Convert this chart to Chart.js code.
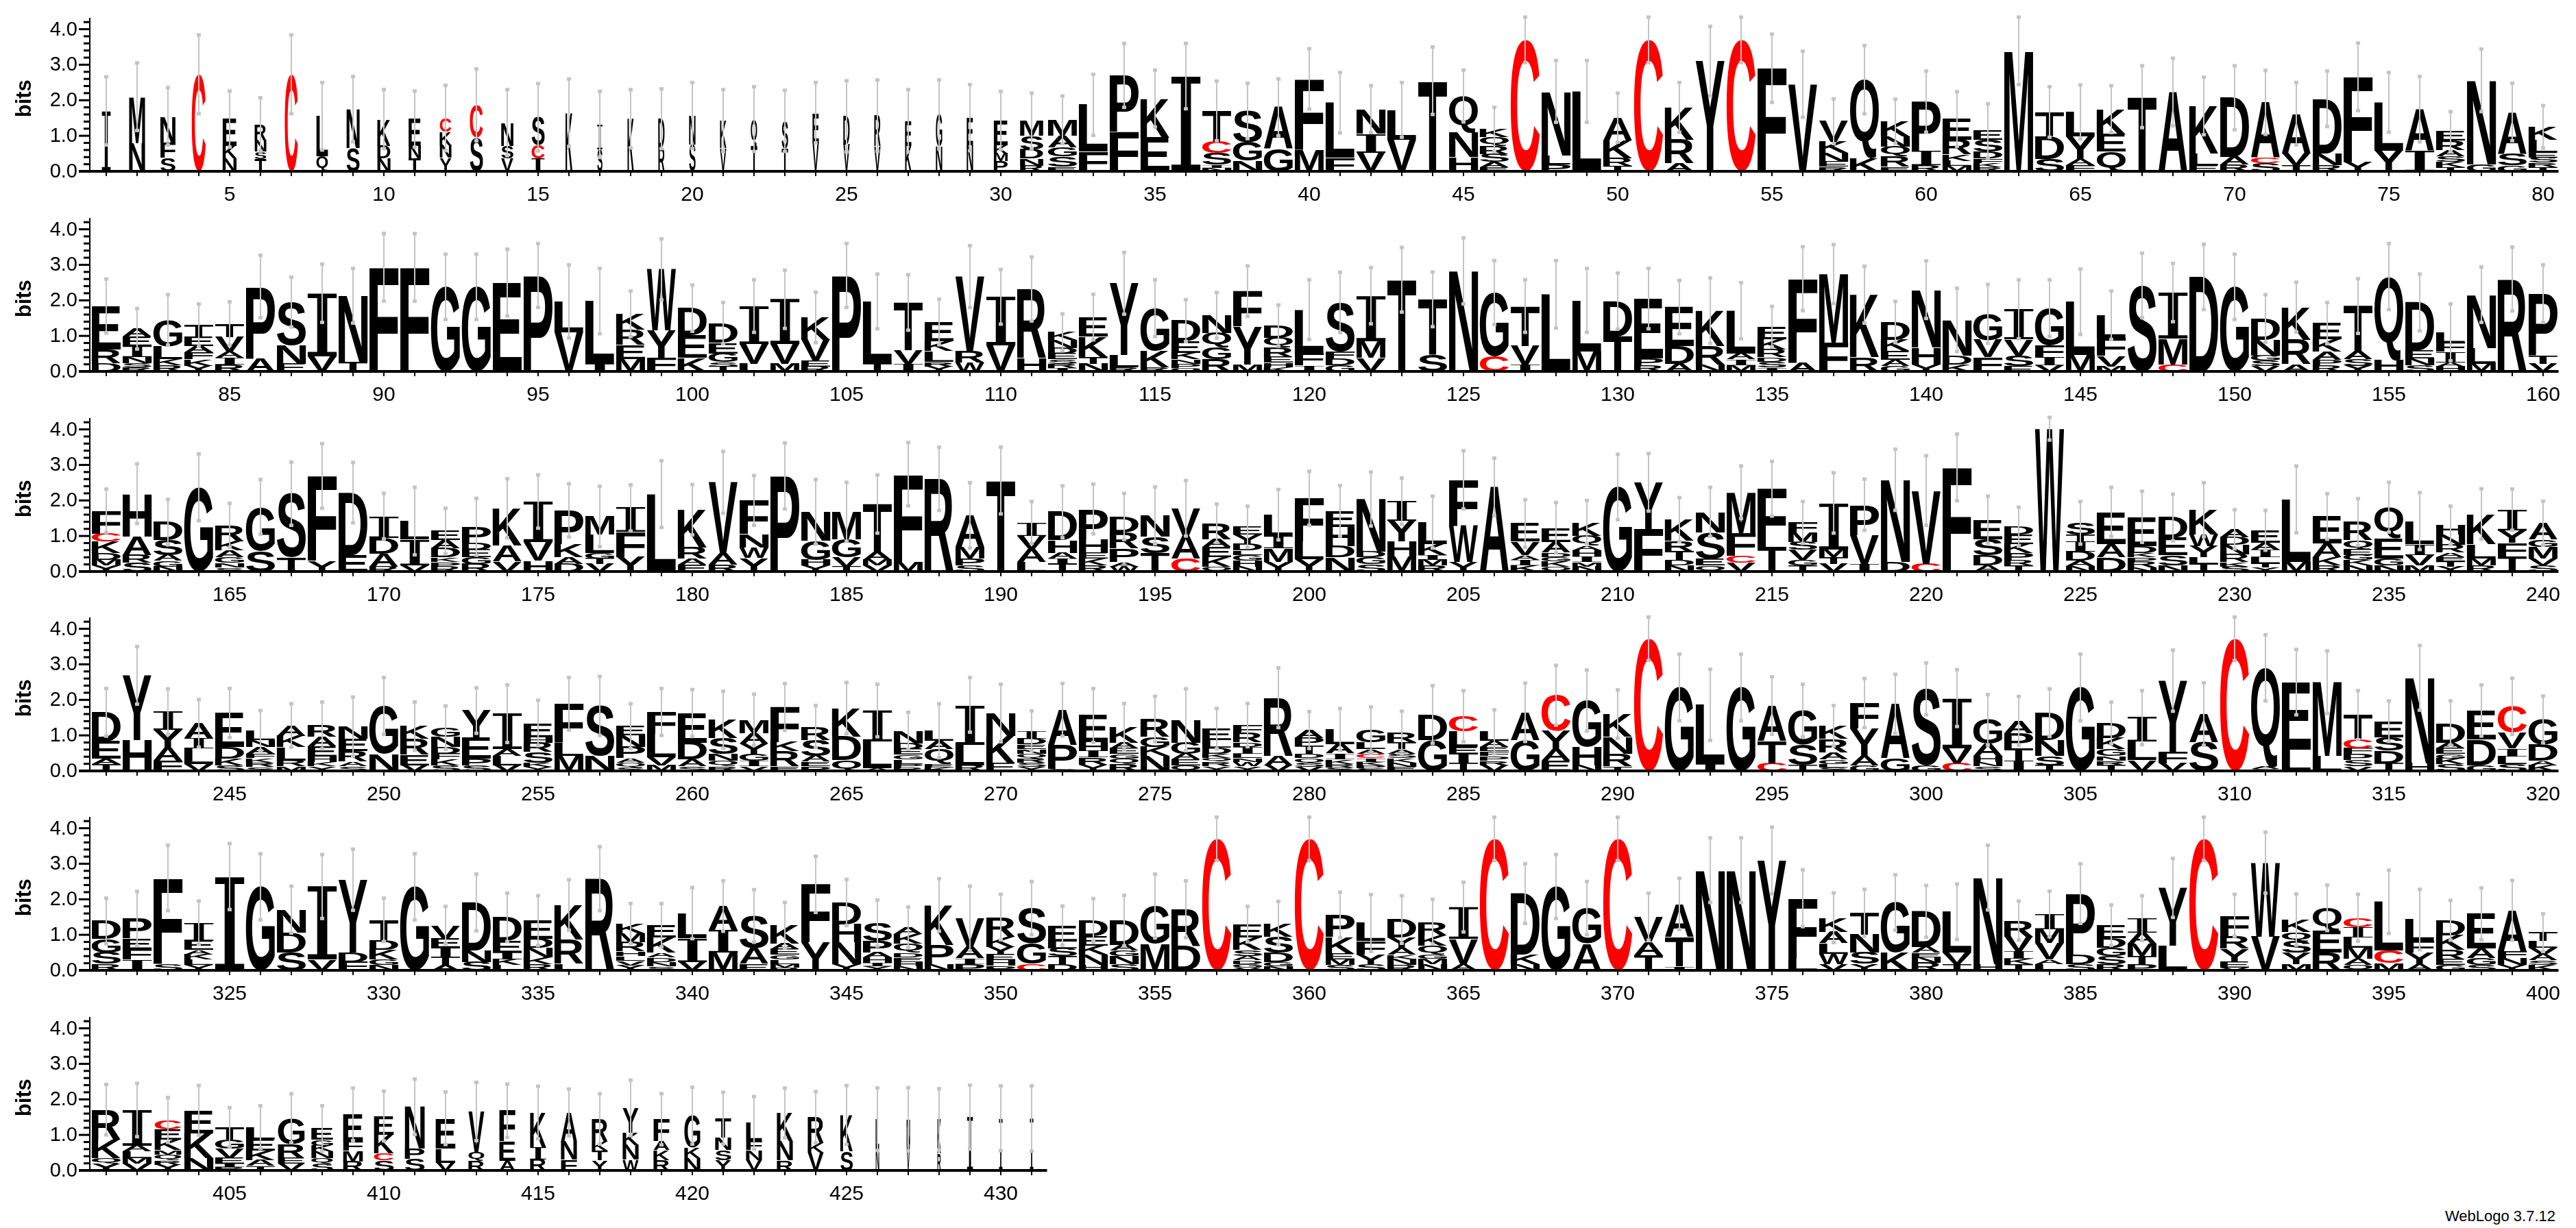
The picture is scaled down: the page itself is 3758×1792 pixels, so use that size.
<!DOCTYPE html>
<html>
<head>
<meta charset="utf-8">
<script src="https://cdn.jsdelivr.net/npm/chart.js@4/dist/chart.umd.min.js"></script>
<style>
html,body{margin:0;padding:0;background:#fff;}
body{width:3758px;height:1792px;position:relative;overflow:hidden;}
canvas.row{position:absolute;left:0;}
#credit{position:absolute;right:30px;top:1762px;font:22px "Liberation Sans",Arial,sans-serif;color:#000;white-space:nowrap;}
</style>
</head>
<body>
<div id="credit">WebLogo 3.7.12</div>
<script>
// ---------------- DATA (letters top-to-bottom with heights in bits) ----------------
const rowStarts = [1, 81, 161, 241, 321, 401];

const stacks1 = ["I1.70","M1.30 N0.80","N0.75 F0.42 S0.38","C2.73","E0.75 K0.36 N0.36","R0.45 N0.32 S0.20 T0.35","C2.73","L1.13 Q0.42","N1.10 S0.65","K0.75 D0.36 N0.36",
"E0.75 N0.36 T0.36","C0.38 K0.38 N0.36 Y0.38","C0.92 S0.95","N0.65 S0.36 V0.36","S0.78 C0.38 I0.36","K1.65","I0.70 S0.62","K1.48","D0.80 R0.68","N0.82 S0.75",
"K0.78 V0.65","Q0.75 T0.72","S0.77 T0.65","E0.85 V0.80","D0.80 V0.75","R0.87 V0.70","E0.70 K0.72","G0.90 N0.70","E0.77 N0.74","E0.70 K0.22 M0.22 P0.29",
"M0.42 S0.38 D0.26 N0.20 R0.16","M0.45 A0.32 G0.26 S0.29 E0.13","L1.32 F0.55","P1.58 F1.12","K1.10 E0.95","I2.68","T0.87 C0.32 S0.33 I0.08 N0.10","S0.88 G0.52 N0.30","A1.18 G0.62","F2.00 M0.60",
"L1.55 F0.38","N0.68 I0.54 V0.53","L0.85 V0.88","T2.55","Q1.02 N0.70 H0.40","K0.22 Q0.25 R0.22 S0.22 A0.15 E0.12","C3.70","N1.80 L0.25 P0.20","L2.25","A0.65 K0.50 R0.21 T0.15",
"C3.70","K0.92 R0.66 A0.22","Y3.10","C3.70","F2.90","V2.45","V0.58 K0.31 N0.25 E0.14 R0.13","Q2.22 K0.36","K0.42 N0.30 Q0.27 R0.29 E0.13","P1.38 I0.40 R0.18",
"E0.58 R0.42 K0.18 L0.14 M0.15","E0.26 S0.33 D0.19 F0.13 K0.12 R0.11","M3.39","T0.68 D0.64 S0.35","L0.68 Y0.64 A0.18 F0.17","K0.70 E0.50 Q0.55","T2.10","A2.23","K1.33 L0.35 E0.16","D1.67 A0.21 R0.19",
"A1.56 C0.16 S0.22","A1.10 V0.34 T0.18","D1.53 N0.33 R0.18","F2.40 Y0.26","L1.36 Y0.58","A1.16 I0.59","E0.26 R0.26 A0.17 S0.16 K0.15 T0.12","N2.36 G0.20","A1.17 S0.34 G0.16","K0.37 L0.36 E0.14 S0.14 R0.12 T0.12"];
const err1 = [0.96,0.95,0.81,1.11,0.79,0.75,1.11,0.95,0.92,0.83, 0.79,0.92,1.01,0.93,0.95,0.95,0.93,0.82,0.84,0.93,
0.87,0.91,0.86,0.85,1.00,1.00,0.88,0.97,0.93,0.82, 0.78,0.67,0.86,0.90,0.80,0.92,0.84,0.78,0.80,0.85,
0.85,0.66,0.77,0.95,0.73,0.62,0.64,0.87,0.87,0.69, 0.64,0.70,0.98,0.64,0.96,0.93,0.63,0.96,0.62,0.86,
0.77,0.76,0.95,0.71,0.76,0.66,0.87,0.95,0.81,0.90, 0.90,0.88,0.78,0.95,0.84,0.92,0.56,0.88,0.81,0.60];
const occupancy1 = [0.30,0.55,0.52,0.48,0.48,0.40,0.45,0.40,0.45,0.45, 0.42,0.40,0.45,0.42,0.45,0.24,0.18,0.22,0.22,0.22,
0.22,0.22,0.22,0.22,0.22,0.22,0.22,0.22,0.22,0.48, 0.80,1,1,1,1,1,1,1,1,1, 1,1,1,1,1,1,1,1,1,1, 1,1,1,1,1,1,1,1,1,1, 1,1,1,1,1,1,1,1,1,1, 1,1,1,1,1,1,1,1,1,1];

const stacks2 = ["E1.22 R0.40 D0.22","A0.22 E0.26 I0.32 N0.16 S0.13 R0.11","G0.74 L0.36 K0.18 R0.17","T0.32 E0.26 A0.19 F0.19 K0.18 Y0.16","T0.38 V0.42 A0.16 I0.19 R0.20","P2.02 A0.37","S1.22 N0.51 E0.22","I1.78 V0.42","N1.86 T0.27","F2.93",
"F2.93","G2.38","G2.38","E2.50","P2.70","L0.87 V1.10","L1.77 I0.21","K0.45 R0.42 E0.40 M0.35","W1.72 Y0.76 F0.39","D0.76 E0.64 K0.38",
"D0.55 E0.30 G0.24 S0.13 T0.14","I1.07 V0.56 L0.21","I1.26 V0.56 M0.21","K0.64 V0.58 E0.16 R0.14","P2.70","L1.75 T0.22","T1.34 V0.39 I0.21","E0.55 K0.27 L0.30 R0.13 Y0.14","V2.10 R0.33 W0.24","I1.37 V0.73",
"R1.95 H0.37","K0.22 N0.22 D0.16 E0.16 S0.13 R0.12 I0.09","E0.55 K0.58 T0.19 N0.21","Y2.02 L0.35 R0.11","G1.19 K0.48 R0.11","D0.58 E0.32 K0.19 N0.13 P0.12 Q0.09","N0.50 Q0.40 G0.34 R0.34","F0.99 Y1.07 M0.20","D0.34 Q0.27 R0.27 E0.16 H0.13 K0.12","L1.22 F0.35 I0.17",
"S1.38 F0.19 D0.20 G0.17","I1.28 M0.47 V0.38","T2.58","T1.56 S0.47","N2.83","G1.80 C0.42","T1.12 V0.53 I0.19","L2.17","L1.44 M0.56","D0.99 T0.99",
"E1.68 P0.20 R0.17","E1.10 D0.50 A0.21","K1.00 R0.52 N0.19","L1.20 A0.17 I0.16 M0.18","E0.35 K0.29 R0.22 D0.13 S0.16 I0.11","F2.37 A0.24","M1.93 F0.81","K1.76 R0.40","D0.50 K0.32 E0.25 A0.17 G0.15","N1.62 H0.48 Y0.20",
"N1.00 D0.25 K0.20","G0.74 V0.48 F0.40","I0.85 V0.45 S0.30 E0.15","G1.05 F0.33 I0.23 V0.17","L1.50 M0.46","L0.64 F0.50 V0.30 M0.14","S2.42","I1.30 M0.72 C0.20","D2.66","G2.38",
"D0.60 N0.44 G0.14 S0.16 V0.15","K0.92 R0.69 A0.20","E0.46 K0.35 A0.22 P0.15 R0.18","T1.28 A0.21 S0.19 Y0.16","Q2.34 H0.33","D1.35 E0.22 N0.20 S0.17","L0.29 F0.26 I0.29 A0.12 H0.14","N1.50 L0.44 M0.22","R2.60","P1.75 T0.23 V0.21"];
const err2 = [0.76,0.57,0.71,0.60,0.61,0.88,0.70,0.82,0.77,0.95, 0.95,0.92,0.92,0.94,0.90,1.03,0.92,0.64,0.86,0.65,
0.58,0.74,0.82,0.71,0.90,0.77,0.78,0.64,0.87,0.77, 0.90,0.52,0.64,0.87,0.80,0.59,0.64,0.71,0.58,0.84,
0.85,0.79,0.91,0.77,0.93,0.90,0.74,0.95,0.90,0.79, 0.85,0.75,0.92,0.79,0.57,0.90,0.83,0.80,0.58,0.81,
0.89,0.83,0.83,0.80,0.92,0.68,0.91,0.82,0.92,0.92, 0.67,0.70,0.58,0.77,0.93,0.80,0.80,0.78,0.90,0.81];

const stacks3 = ["F0.64 C0.23 K0.32 D0.19 M0.16 Y0.17","H1.20 A0.53 R0.21 S0.25","D0.51 S0.42 A0.16 G0.16 N0.14","G2.37","R0.45 K0.26 A0.19 G0.16 N0.13 S0.11","G1.23 S0.59","S1.80 T0.39","F2.39 Y0.30","D1.76 E0.46","I0.62 D0.44 A0.36 R0.14",
"L0.52 I0.72 V0.18","E0.26 A0.22 D0.26 K0.13 P0.13 R0.14","P0.45 D0.19 E0.22 G0.19 R0.21","K1.05 A0.45 V0.28","I1.15 V0.52 H0.30","P0.94 K0.38 A0.19 D0.21","M0.51 L0.51 G0.16 T0.16 V0.21","I0.68 F0.70 Y0.41","L2.18","K1.06 R0.32 A0.16 E0.20",
"V1.99 A0.32 R0.20","F0.94 N0.38 W0.30 Y0.38","P2.69","N0.82 G0.53 H0.16 Y0.17","M0.77 G0.51 V0.26 T0.14","T1.35 A0.22 M0.16 V0.17","F2.47 M0.27","R2.61","A0.90 M0.32 P0.19 S0.17","T2.56",
"I0.37 V0.37 A0.37 L0.27","D0.80 H0.35 A0.16 I0.16 T0.21","P0.85 H0.39 E0.16 K0.19 R0.17","D0.45 R0.45 P0.38 A0.13 W0.14","N0.60 S0.46 T0.52","V0.77 A0.64 C0.37","R0.45 A0.22 E0.29 K0.26 Q0.14","E0.22 Y0.26 D0.19 L0.13 G0.16 H0.16 N0.14","L0.60 I0.35 M0.38 Y0.27","F1.22 L0.50 Y0.34",
"E0.45 H0.54 D0.32 N0.40","N1.48 D0.16 G0.19 S0.21","I0.55 Y0.58 H0.42 M0.43","L0.61 K0.32 I0.13 M0.16 R0.17","F1.28 W1.03 Y0.27","A2.38","E0.51 V0.38 A0.13 I0.16 K0.17","E0.40 A0.30 D0.13 G0.12 K0.14 Q0.14","K0.38 Q0.29 A0.13 H0.16 I0.16 M0.13 N0.14","G2.38",
"Y1.31 F1.20","K0.60 R0.30 T0.24 D0.15 N0.17","N0.58 S0.74 E0.19 Q0.17","M1.15 F0.64 C0.20 V0.24","F1.64 T0.69","F0.29 M0.26 S0.22 V0.29 G0.15 T0.17","I1.31 M0.22 T0.19 V0.21","P0.85 V0.83 I0.20","N2.31 D0.27","V2.06 C0.22",
"F2.93","E0.55 S0.45 D0.29 A0.17","D0.22 E0.26 K0.26 P0.20 R0.15 T0.17","W4.02","S0.33 T0.19 I0.29 D0.26 A0.15 N0.15","E0.90 A0.38 D0.40","E0.82 D0.19 K0.13 P0.13 R0.16 N0.11","D0.58 E0.48 S0.29 N0.17","K0.70 W0.32 Y0.32 L0.19 T0.21","A0.22 D0.22 N0.26 R0.22 K0.13 S0.14",
"E0.35 A0.19 I0.22 L0.16 T0.13 Y0.11","L1.76 M0.27","E0.75 A0.40 K0.22 R0.18","R0.51 Q0.26 E0.16 G0.14 K0.15 N0.17","Q0.88 E0.56 G0.19 N0.18","L0.65 I0.30 V0.30 M0.17","H0.26 N0.29 R0.22 A0.13 E0.12 T0.14 Y0.14","K0.85 L0.40 M0.19 R0.18","I0.58 Y0.35 F0.40 T0.41","A0.46 G0.20 M0.33 V0.20 S0.17"];
const err3 = [0.61,0.84,0.64,0.94,0.62,0.77,0.89,0.91,0.85,0.64, 0.95,0.64,0.80,0.83,0.75,0.75,0.85,0.65,0.94,0.71,
0.87,0.70,0.93,0.91,0.83,0.82,0.89,0.89,0.92,0.94, 0.59,0.73,0.70,0.65,0.80,0.78,0.54,0.58,0.71,0.76,
0.71,0.76,0.65,0.73,0.82,0.81,0.67,0.71,0.61,0.92, 0.81,0.62,0.69,0.74,0.77,0.59,0.85,0.72,0.86,0.98,
0.94,0.66,0.55,0.32,0.60,0.69,0.72,0.66,0.76,0.55, 0.56,0.94,0.64,0.66,0.70,0.80,0.54,0.71,0.58,0.62];

const stacks4 = ["D0.83 E0.48 A0.15 T0.19","Y1.83 H0.86","I0.52 Y0.50 A0.36 F0.29","A0.42 I0.28 L0.44 V0.20","E0.95 D0.33 K0.19 S0.16","L0.26 N0.19 A0.19 F0.13 K0.12 R0.13 S0.11","A0.29 K0.32 L0.38 R0.16 M0.13","R0.32 A0.26 E0.29 H0.15 K0.13 Y0.13","N0.35 E0.35 R0.29 A0.13 S0.13","G1.35 N0.48",
"K0.36 R0.45 E0.29 V0.16","G0.26 N0.29 D0.19 F0.16 K0.16 S0.16","Y0.75 E0.60 P0.19 S0.16","I1.00 A0.19 L0.26 V0.16","E0.40 H0.15 R0.27 S0.30 K0.12 Y0.11","F1.09 L0.38 M0.42","S1.41 N0.42","E0.26 N0.32 P0.32 A0.13 Q0.13 S0.10","F0.61 L0.67 V0.22 M0.16","E0.83 D0.48 A0.19 S0.13",
"K0.51 S0.45 N0.19 Q0.16 R0.13","M0.38 A0.29 Y0.29 G0.19 I0.16 V0.13","F0.99 K0.26 R0.42 E0.13","R0.38 S0.45 A0.16 E0.13 P0.13","K0.80 D0.67 Q0.30","I0.88 L0.75 A0.07","N0.35 D0.16 E0.16 G0.13 L0.13 P0.10 R0.10","L0.29 A0.22 Q0.42 E0.10 K0.10","I1.12 L0.58 R0.16","N0.64 K0.77 E0.22",
"I0.22 D0.16 E0.13 N0.13 Q0.13 R0.13 S0.12 Y0.11","A0.99 P0.67 G0.06","E0.75 H0.25 I0.18 R0.20 Y0.18","K0.45 A0.16 E0.16 G0.13 Q0.16 R0.19","R0.49 G0.29 K0.26 N0.42","N0.64 G0.32 A0.16 E0.16 Q0.16","E0.32 L0.22 D0.16 K0.13 Q0.10 R0.13 Y0.13","F0.22 R0.26 D0.13 I0.19 L0.13 N0.10 W0.13 Y0.13","R1.64 A0.26 V0.16","A0.22 P0.22 T0.22 D0.13 Q0.13 S0.12 V0.11",
"L0.42 A0.26 I0.16 K0.13 R0.10 S0.10","G0.35 L0.19 A0.13 C0.12 I0.11 K0.10 P0.08 S0.08","R0.27 T0.19 A0.13 S0.13 K0.13 N0.12 E0.11","D0.72 G0.87","C0.42 L0.45 E0.19 I0.26 T0.22","L0.26 A0.16 E0.13 F0.13 P0.13 R0.13 V0.16","A0.78 G0.87","C1.01 Y0.51 A0.32 E0.29","G1.31 H0.51 N0.16","K0.64 N0.48 R0.35 T0.13",
"C3.72","G2.35","L1.67 I0.19","G2.35","A1.00 T0.62 C0.22","G0.96 S0.58 T0.16","K0.37 R0.38 A0.19 G0.13 L0.10 S0.10","F0.72 Y0.77 A0.26 G0.16","A1.54 G0.35","S2.15 G0.16",
"I1.41 V0.42 C0.22","G0.67 A0.35 H0.16 N0.13 S0.13","A0.35 P0.42 T0.35 I0.29","D0.77 N0.45 S0.26 T0.16","G2.35","D0.42 K0.32 G0.19 N0.13 R0.13 T0.16","I0.68 L0.52 V0.30","Y2.00 F0.32 V0.22","A0.80 S0.80","C3.72",
"Q2.79 A0.06 S0.05","E1.90 L0.60","M2.08 L0.42","T0.67 C0.26 F0.16 P0.18 S0.17 V0.13","E0.45 S0.38 D0.35 T0.22","N2.40 H0.22","D0.55 A0.16 E0.16 G0.13 K0.16 S0.19","E0.82 D0.72 G0.16","C0.74 V0.45 I0.22 L0.22 S0.19","G0.70 D0.46 A0.13 K0.16"];
const err4 = [0.67,0.81,0.64,0.67,0.69,0.57,0.61,0.66,0.83,0.80, 0.68,0.61,0.64,0.81,0.64,0.74,0.83,0.63,0.66,0.66,
0.80,0.72,0.66,0.59,0.72,0.74,0.52,0.76,0.77,0.81, 0.56,0.74,0.76,0.65,0.64,0.87,0.57,0.61,0.84,0.52,
0.59,0.64,0.60,0.81,0.72,0.62,0.82,0.84,0.86,0.68, 0.61,0.94,1.00,0.94,0.81,0.74,0.57,0.69,0.83,0.73,
0.80,0.71,0.69,0.67,0.94,0.59,0.76,0.86,0.88,0.61, 0.93,0.92,0.88,0.69,0.57,0.91,0.62,0.72,0.79,0.66];

const stacks5 = ["D0.51 G0.38 S0.32 R0.18","P0.56 E0.30 F0.30 I0.30","F2.42 S0.18","I0.51 E0.26 A0.13 K0.14 L0.15 Y0.15","I2.64","G2.35","N0.64 D0.56 S0.51","I2.06 V0.30","Y2.05 D0.26 F0.24","T0.57 D0.28 K0.26 G0.16 N0.15",
"G2.35","V0.38 E0.26 I0.26 T0.22 A0.15","D1.35 N0.32 S0.24","D0.67 E0.32 I0.19 K0.16 L0.15","E0.51 D0.26 N0.26 K0.19 R0.18","K0.98 R0.68 L0.18","R2.58","K0.28 M0.24 R0.27 H0.13 L0.13 V0.13 Y0.14","E0.35 K0.42 A0.13 D0.13 N0.13 S0.11","L0.70 I0.67 V0.24",
"A0.67 I0.64 M0.50","S0.90 A0.45 E0.18","K0.51 A0.16 E0.16 G0.13 L0.13 M0.10 R0.08","F1.63 Y0.79","D0.61 H0.51 N0.61 Y0.18","S0.51 P0.32 A0.14 H0.15 I0.10 Y0.11","A0.19 K0.26 Q0.26 D0.13 E0.13 H0.13 N0.11","K1.12 P0.54 N0.18","V0.80 A0.32 I0.16 P0.18","R0.55 K0.29 Y0.22 E0.16 H0.15 P0.13",
"S0.99 G0.58 C0.18","E0.45 L0.19 S0.22 T0.22 D0.18","D0.45 E0.26 K0.26 N0.29 H0.15","D0.68 A0.16 G0.16 N0.22 S0.18","G1.06 M0.75","R1.04 D0.68","C3.70","E0.38 K0.35 S0.16 A0.13 D0.10 G0.10 V0.08","K0.38 S0.45 D0.26 G0.13 N0.11","C3.70",
"P0.61 K0.48 E0.16 M0.16 S0.15","L0.51 F0.38 Y0.26 S0.18","D0.51 Y0.29 A0.19 K0.13 N0.16 R0.15","R0.38 K0.29 Q0.26 G0.12 M0.14 N0.18","I0.90 V0.70 A0.18","C3.70","D1.72 K0.26 N0.18","G2.36","G1.00 A0.75","C3.70",
"V0.70 A0.38 T0.43","A0.93 T0.83 I0.11","N2.82","N2.82","Y3.09","F1.70 L0.33","K0.40 A0.32 L0.29 W0.29 V0.18","T0.61 N0.51 S0.32 Y0.18","G1.41 K0.50","D1.00 A0.16 E0.13 N0.16 R0.21",
"L1.15 V0.32 T0.18","N2.43 H0.18","R0.45 V0.41 I0.22 K0.14 T0.18","I0.43 M0.39 V0.46 A0.13 L0.18","P1.72 D0.26 S0.18","E0.37 D0.27 G0.23 S0.22 R0.18","I0.40 A0.32 M0.35 T0.22 P0.18","Y1.63 L0.69","C3.70","F0.58 R0.35 Y0.38 E0.16 V0.08",
"W2.08 V0.95","K0.35 Q0.26 S0.32 Y0.32 M0.18","Q0.65 E0.61 R0.50","C0.26 I0.29 L0.29 M0.32 A0.17 Q0.15","L1.38 C0.35 M0.20","L0.61 F0.32 Y0.32 A0.18","D0.42 K0.42 R0.26 E0.16 G0.15","E0.98 A0.27 G0.19 S0.15","A1.15 F0.20 N0.19 Y0.15","T0.24 L0.19 V0.19 A0.16 S0.13 K0.15"];
const err5 = [0.64,0.76,0.92,0.61,0.93,0.93,0.66,0.90,0.86,0.61, 0.93,0.53,0.80,0.68,0.70,0.71,0.90,0.56,0.61,0.72,
0.71,0.74,0.64,0.79,0.65,0.65,0.57,0.74,0.91,0.64, 0.75,0.55,0.61,0.71,0.90,0.80,0.61,0.50,0.61,0.61,
0.64,0.80,0.67,0.63,0.70,0.61,0.84,0.90,0.75,0.61, 0.66,0.72,0.91,0.91,0.94,0.80,0.70,0.66,0.78,0.73,
0.78,0.91,0.55,0.64,0.84,0.57,0.63,0.83,0.61,0.59, 0.86,0.72,0.64,0.66,0.89,0.85,0.56,0.73,0.84,0.53];

const stacks6 = ["R0.85 K0.51 Q0.16 Y0.19","I1.00 A0.16 L0.19 M0.16 V0.19","C0.26 E0.29 K0.29 M0.13 Q0.16 R0.13 Y0.16","E0.64 K0.70 N0.35","T0.35 G0.26 V0.26 E0.16 I0.10 R0.09","L0.35 E0.32 K0.26 A0.16 T0.13","G0.72 R0.40 E0.16 V0.19","E0.32 G0.16 K0.16 N0.19 Q0.16 S0.19","E0.77 F0.26 M0.29 R0.26","E0.52 K0.52 C0.20 S0.29",
"N1.18 P0.29 S0.32","E0.85 L0.40 V0.22","V1.15 Q0.24 R0.27","F0.86 E0.55 A0.27","K0.98 I0.34 R0.31","A0.80 N0.53 F0.30","R0.65 K0.25 T0.27 Y0.28","Y0.70 K0.34 N0.42 W0.30","F0.62 A0.25 K0.28 R0.29","G0.90 K0.30 N0.34",
"T0.55 N0.35 S0.28 Y0.29","L0.52 F0.25 N0.28 V0.29","K0.79 N0.55 R0.28","R0.74 K0.26 V0.50","K1.02 S0.54","L0.83 N0.61","N0.70 V0.74","K0.96 R0.48","I1.50","I1.47","I1.46"];
const err6 = [0.71,0.75,0.63,0.70,0.55,0.60,0.69,0.64,0.74,0.70, 0.78,0.74,0.82,0.75,0.74,0.66,0.71,0.78,0.72,0.80,
0.73,0.74,0.70,0.72,0.83,0.88,0.89,0.86,0.90,0.91,0.92];
const occupancy6 = [1,1,0.92,1,1,1,0.92,0.75,0.68,0.68, 0.68,0.68,0.55,0.55,0.55,0.55,0.55,0.55,0.55,0.55,
0.55,0.55,0.55,0.55,0.43,0.12,0.12,0.12,0.20,0.12,0.12];

const yTickLabels = ["0.0","1.0","2.0","3.0","4.0"];
const yMaxBits = 4.32;   // log2(20)

// ---------------- LAYOUT / STYLE ----------------
const BASELINES = [250, 542, 834, 1125, 1416, 1708];
const COL_W = 45, AREA_LEFT = 132.5, CANVAS_W = 3758, CANVAS_H = 300, TOP_PAD = 26, BOTTOM_PAD = 50;
const LETTER_FONT = 'bold 200px "Liberation Sans", Arial, sans-serif';
const SERIF_FONT = '200px "DejaVu Serif", "Liberation Serif", serif';

const glyphCache = {};
function glyphMetrics(ctx, ch){
  const font = ch === 'I' ? SERIF_FONT : LETTER_FONT;
  const key = font + ch;
  if (!glyphCache[key]) {
    ctx.save(); ctx.font = font;
    const m = ctx.measureText(ch);
    ctx.restore();
    glyphCache[key] = {font, l: m.actualBoundingBoxLeft, r: m.actualBoundingBoxRight,
                       a: m.actualBoundingBoxAscent, d: m.actualBoundingBoxDescent};
  }
  return glyphCache[key];
}
function drawGlyph(ctx, ch, x, y, w, h, color){
  const g = glyphMetrics(ctx, ch);
  const gw = g.l + g.r, gh = g.a + g.d;
  if (gw <= 0 || gh <= 0) return;
  ctx.save();
  ctx.translate(x, y);
  ctx.scale(w / gw, h / gh);
  ctx.font = g.font;
  ctx.fillStyle = color;
  ctx.textAlign = 'left';
  ctx.textBaseline = 'alphabetic';
  ctx.fillText(ch, g.l, g.a);
  ctx.restore();
}

const logoPlugin = {
  id: 'logo',
  afterDatasetsDraw(chart) {
    const ctx = chart.ctx;
    const opt = chart.options.plugins.logo;
    chart.data.datasets.forEach((ds, k) => {
      const meta = chart.getDatasetMeta(k);
      meta.data.forEach((bar, i) => {
        const ch = ds.letters[i];
        if (!ch) return;
        const p = bar.getProps(['x', 'y', 'base', 'width'], true);
        const top = Math.min(p.y, p.base), h = Math.abs(p.base - p.y);
        if (h < 0.6) return;
        const w = p.width * opt.occ[i];
        drawGlyph(ctx, ch, p.x - w / 2, top, w, h, ch === 'C' ? '#ff0000' : '#000000');
      });
    });
    const xs = chart.scales.x, ys = chart.scales.y;
    ctx.save();
    ctx.strokeStyle = '#c4c4c4';
    ctx.fillStyle = '#c4c4c4';
    ctx.lineWidth = 2;
    opt.totals.forEach((t, i) => {
      const e = opt.err[i];
      const px = xs.getPixelForValue(i);
      const yT = ys.getPixelForValue(t + e);
      const yB = ys.getPixelForValue(Math.max(0, t - e));
      ctx.beginPath(); ctx.moveTo(px, yB); ctx.lineTo(px, yT); ctx.stroke();
      ctx.fillRect(px - 3, yT - 2.5, 6, 5);
      ctx.fillRect(px - 3, yB - 2.5, 6, 5);
    });
    ctx.restore();
  },
  afterDraw(chart) {
    const ctx = chart.ctx;
    const opt = chart.options.plugins.logo;
    const xs = chart.scales.x, ys = chart.scales.y;
    const area = chart.chartArea;
    const y0 = ys.getPixelForValue(0);
    const axisX = area.left - 1.5;
    ctx.save();
    ctx.fillStyle = '#000';
    ctx.fillRect(axisX - 1, ys.getPixelForValue(yMaxBits), 2, y0 - ys.getPixelForValue(yMaxBits));
    for (let k = 0; k <= 21; k++) {
      const v = k * 0.2;
      const py = ys.getPixelForValue(v);
      if (k % 5 === 0) ctx.fillRect(axisX - 16, py - 1.5, 16, 3);
      else ctx.fillRect(axisX - 9, py - 1.5, 9, 3);
    }
    ctx.font = '29px "Liberation Sans", Arial, sans-serif';
    ctx.textAlign = 'right'; ctx.textBaseline = 'middle';
    yTickLabels.forEach((lab, k) => ctx.fillText(lab, axisX - 18, ys.getPixelForValue(k) + 1));
    ctx.fillRect(axisX - 16, y0 - 2, area.right - axisX + 16, 4);
    ctx.font = '30px "Liberation Sans", Arial, sans-serif';
    ctx.textAlign = 'center'; ctx.textBaseline = 'middle';
    opt.positions.forEach((pos, i) => {
      const px = xs.getPixelForValue(i);
      ctx.fillRect(px - 1, y0 + 2, 2, 5);
      if (pos % 5 === 0) ctx.fillText(String(pos), px, y0 + 35);
    });
    ctx.translate(36, ys.getPixelForValue(2.05));
    ctx.rotate(-Math.PI / 2);
    ctx.font = 'bold 31px "Liberation Sans", Arial, sans-serif';
    ctx.textAlign = 'center'; ctx.textBaseline = 'middle';
    ctx.fillText('bits', 0, 0);
    ctx.restore();
  }
};

function parseStack(s) {
  return s.trim().split(/\s+/).map(t => ({ ch: t[0], h: parseFloat(t.slice(1)) }));
}

const allStacks = [stacks1, stacks2, stacks3, stacks4, stacks5, stacks6];
const allErr = [err1, err2, err3, err4, err5, err6];
const allOcc = [occupancy1, null, null, null, null, occupancy6];

allStacks.forEach((stacks, r) => {
  const n = stacks.length;
  const positions = stacks.map((_, i) => rowStarts[r] + i);
  const cols = stacks.map(s => parseStack(s).reverse());
  const totals = cols.map(c => c.reduce((a, b) => a + b.h, 0));
  const levels = Math.max(...cols.map(c => c.length));
  const datasets = [];
  for (let k = 0; k < levels; k++) {
    datasets.push({
      data: cols.map(c => (c[k] ? c[k].h : 0)),
      letters: cols.map(c => (c[k] ? c[k].ch : '')),
      backgroundColor: 'rgba(0,0,0,0)',
      borderWidth: 0,
      barPercentage: 0.94,
      categoryPercentage: 1.0
    });
  }
  const cv = document.createElement('canvas');
  cv.className = 'row';
  cv.width = CANVAS_W; cv.height = CANVAS_H;
  cv.style.width = CANVAS_W + 'px'; cv.style.height = CANVAS_H + 'px';
  cv.style.top = (BASELINES[r] - (CANVAS_H - BOTTOM_PAD)) + 'px';
  document.body.appendChild(cv);
  const rightPad = CANVAS_W - AREA_LEFT - n * COL_W;
  new Chart(cv, {
    type: 'bar',
    data: { labels: positions.map(String), datasets },
    options: {
      responsive: false, animation: false, events: [],
      devicePixelRatio: 1,
      layout: { padding: { left: AREA_LEFT, right: rightPad, top: TOP_PAD, bottom: BOTTOM_PAD } },
      scales: {
        x: { stacked: true, display: false, offset: true },
        y: { stacked: true, display: false, min: 0, max: yMaxBits }
      },
      plugins: {
        legend: { display: false }, tooltip: { enabled: false },
        logo: { occ: allOcc[r] || new Array(n).fill(1), err: allErr[r], totals, positions }
      }
    },
    plugins: [logoPlugin]
  });
});
</script>
</body>
</html>
